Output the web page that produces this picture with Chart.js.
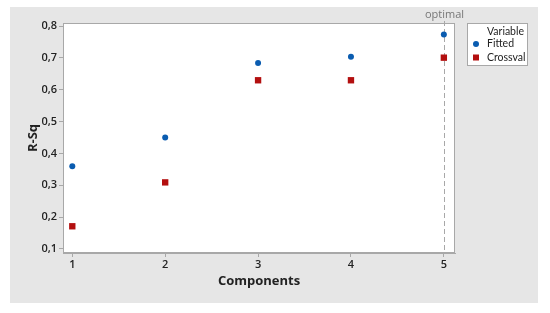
<!DOCTYPE html>
<html>
<head>
<meta charset="utf-8">
<script src="https://cdn.jsdelivr.net/npm/chart.js@4"></script>
<style>
  html, body { margin: 0; padding: 0; background: #fff; }
  #wrap { width: 550px; height: 313px; }
</style>
</head>
<body>
<div id="wrap"><canvas id="rsqChart" width="550" height="313"></canvas></div>
<script>
// data
var components = [1, 2, 3, 4, 5];
var fitted = [0.360, 0.450, 0.684, 0.704, 0.774];
var crossval = [0.171, 0.309, 0.630, 0.630, 0.701];
var xTicks = [1, 2, 3, 4, 5];
var yTicks = [0.1, 0.2, 0.3, 0.4, 0.5, 0.6, 0.7, 0.8];
var optimalX = 5;

var FONT = '"Open Sans", "Noto Sans", sans-serif';
var LEG_FONT = 'Lato, "Open Sans", sans-serif';
var GRAY = '#a8a8a8';

function toPoints(vals) {
    return components.map(function (c, i) { return { x: c, y: vals[i] }; });
}

// gray panel, frame, optimal line and legend
var panelPlugin = {
    id: 'panel',
    beforeDraw: function (chart) {
        var ctx = chart.ctx;
        ctx.save();
        ctx.fillStyle = '#e6e6e6';
        ctx.fillRect(10, 7, 528, 296);
        var a = chart.chartArea;
        ctx.fillStyle = '#ffffff';
        ctx.fillRect(a.left, a.top, a.right - a.left, a.bottom - a.top);
        ctx.restore();
    },
    beforeDatasetsDraw: function (chart) {
        var ctx = chart.ctx;
        var a = chart.chartArea;
        var x = Math.round(chart.scales.x.getPixelForValue(optimalX)) + 0.5;
        ctx.save();
        ctx.strokeStyle = GRAY;
        ctx.setLineDash([5, 3]);
        ctx.beginPath();
        ctx.moveTo(x, a.top - 2);
        ctx.lineTo(x, a.bottom);
        ctx.stroke();
        ctx.setLineDash([]);
        ctx.fillStyle = '#777';
        ctx.font = '11px ' + FONT;
        ctx.textAlign = 'center';
        ctx.textBaseline = 'middle';
        ctx.fillText('optimal', x, 15);
        ctx.restore();
    },
    afterDatasetsDraw: function (chart) {
        var ctx = chart.ctx;
        var a = chart.chartArea;
        ctx.save();
        ctx.strokeStyle = GRAY;
        ctx.lineWidth = 1;
        ctx.strokeRect(a.left + 0.5, a.top + 0.5, a.right - a.left - 1, a.bottom - a.top - 1);
        // legend box
        ctx.fillStyle = '#ffffff';
        ctx.fillRect(467, 23, 60, 42);
        ctx.strokeRect(467.5, 23.5, 60, 42);
        ctx.fillStyle = '#222';
        ctx.font = '10.5px ' + LEG_FONT;
        ctx.textBaseline = 'middle';
        ctx.fillText('Variable', 487, 32);
        chart.data.datasets.forEach(function (ds, i) {
            var y = 44 + i * 13.5;
            ctx.fillStyle = ds.backgroundColor;
            if (ds.pointStyle === 'rect') {
                ctx.fillRect(473, y - 3, 6, 6);
            } else {
                ctx.beginPath();
                ctx.arc(476, y, 3, 0, Math.PI * 2);
                ctx.fill();
            }
            ctx.fillStyle = '#222';
            ctx.fillText(ds.label, 487, y);
        });
        ctx.restore();
    }
};

var ctx = document.getElementById('rsqChart').getContext('2d');
var rsqChart = new Chart(ctx, {
    type: 'scatter',
    data: {
        datasets: [{
            label: 'Fitted',
            data: toPoints(fitted),
            backgroundColor: '#0a5cb0',
            borderColor: '#0a5cb0',
            pointStyle: 'circle',
            pointRadius: 3,
            borderWidth: 0
        }, {
            label: 'Crossval',
            data: toPoints(crossval),
            backgroundColor: '#b30f0f',
            borderColor: '#b30f0f',
            pointStyle: 'rect',
            pointRadius: 4.5,
            borderWidth: 0
        }]
    },
    options: {
        responsive: false,
        animation: false,
        layout: { padding: { left: 10, top: 23, right: 95, bottom: 10 } },
        plugins: {
            legend: { display: false },
            tooltip: { enabled: false }
        },
        scales: {
            x: {
                type: 'linear',
                min: 0.9,
                max: 5.12,
                afterBuildTicks: function (s) { s.ticks = xTicks.map(function (v) { return { value: v }; }); },
                afterFit: function (s) { s.height = 50; },
                grid: { drawOnChartArea: false, color: GRAY, tickLength: 4 },
                border: { color: GRAY },
                ticks: { color: '#222', font: { family: FONT, size: 11, weight: '600' }, padding: 1 },
                title: { display: true, text: 'Components', color: '#222', font: { family: FONT, size: 13, weight: 'bold' }, padding: { top: 2, bottom: 14 } }
            },
            y: {
                min: 0.087,
                max: 0.81,
                afterBuildTicks: function (s) { s.ticks = yTicks.map(function (v) { return { value: v }; }); },
                afterFit: function (s) { s.width = 53; },
                grid: { drawOnChartArea: false, color: GRAY, tickLength: 4 },
                border: { color: GRAY },
                ticks: {
                    color: '#222',
                    font: { family: FONT, size: 11, weight: '600' },
                    padding: 2,
                    callback: function (v) { return v.toFixed(1).replace('.', ','); }
                },
                title: { display: true, text: 'R-Sq', color: '#222', font: { family: FONT, size: 13, weight: 'bold' }, padding: { top: 15, bottom: 0 } }
            }
        }
    },
    plugins: [panelPlugin]
});
</script>
</body>
</html>
